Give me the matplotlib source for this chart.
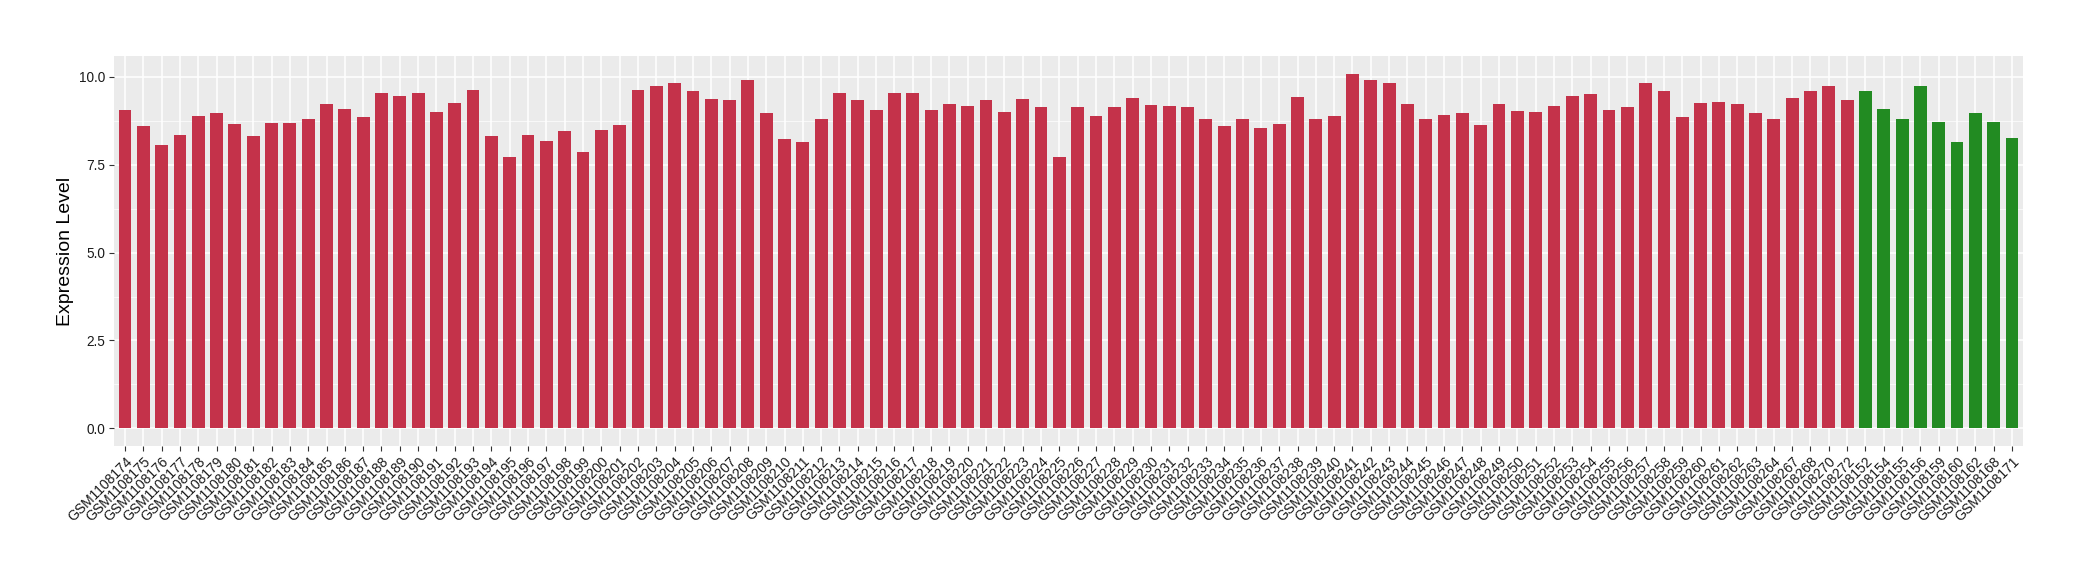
import numpy as np
import matplotlib
matplotlib.use("Agg")
import matplotlib.pyplot as plt
from matplotlib.ticker import MultipleLocator

plt.rcParams['font.family'] = ['Liberation Sans', 'DejaVu Sans']

# tumour samples (red) followed by normal samples (green)
red_ids = [str(i) for i in range(108174, 108265)] + ['108267', '108268', '108270', '108272']
green_ids = ['108152', '108154', '108155', '108156', '108159', '108160', '108162', '108168', '108171']

red_values = [
    9.07, 8.59, 8.07, 8.36, 8.90, 8.96, 8.67, 8.33, 8.70, 8.70,
    8.79, 9.24, 9.10, 8.87, 9.53, 9.47, 9.53, 9.01, 9.27, 9.64,
    8.33, 7.73, 8.36, 8.19, 8.47, 7.87, 8.50, 8.64, 9.64, 9.75,
    9.84, 9.61, 9.38, 9.35, 9.92, 8.98, 8.24, 8.16, 8.79, 9.55,
    9.33, 9.07, 9.53, 9.53, 9.07, 9.24, 9.16, 9.35, 9.01, 9.38,
    9.13, 7.73, 9.13, 8.90, 9.13, 9.41, 9.21, 9.16, 9.13, 8.81,
    8.59, 8.79, 8.56, 8.67, 9.44, 8.79, 8.90, 10.09, 9.90, 9.84,
    9.24, 8.79, 8.93, 8.96, 8.64, 9.24, 9.04, 9.01, 9.16, 9.47,
    9.50, 9.07, 9.13, 9.84, 9.61, 8.87, 9.27, 9.30, 9.24, 8.96,
    8.81, 9.41, 9.61, 9.73, 9.33,
]
green_values = [9.61, 9.10, 8.81, 9.73, 8.73, 8.16, 8.98, 8.73, 8.27]

labels = ['GSM1' + s for s in red_ids + green_ids]
values = red_values + green_values
colors = ['#C4324A'] * len(red_values) + ['#228B22'] * len(green_values)

fig = plt.figure(figsize=(20.8, 5.8), dpi=100)
ax = fig.add_axes([0.0548, 0.231, 0.9178, 0.6724])

x = np.arange(len(values))
ax.bar(x, values, width=0.7, color=colors, zorder=3)

ax.set_facecolor('#EBEBEB')
for s in ax.spines.values():
    s.set_visible(False)

ax.set_xlim(-0.6, len(values) - 1 + 0.6)
span = max(values)
ax.set_ylim(-0.05 * span, span * 1.05)

ax.yaxis.set_minor_locator(MultipleLocator(1.25))
ax.set_yticks([0, 2.5, 5.0, 7.5, 10.0])
ax.set_yticklabels(['0.0', '2.5', '5.0', '7.5', '10.0'])
ax.set_xticks(x)
ax.set_xticklabels(labels, rotation=45, ha='right', va='top', rotation_mode='anchor')

ax.grid(True, which='major', color='white', linewidth=1.1, zorder=0)
ax.grid(True, which='minor', axis='y', color='white', linewidth=0.5, zorder=0)
ax.tick_params(axis='both', which='major', length=3.5, width=0.8, color='#333333',
               labelcolor='#1a1a1a', pad=2.5)
ax.tick_params(axis='x', labelsize=10)
ax.tick_params(axis='y', labelsize=9.8)
ax.tick_params(axis='y', which='minor', length=0)

ax.set_ylabel('Expression Level', fontsize=14, labelpad=4)

fig.savefig('out.png', dpi=100)
